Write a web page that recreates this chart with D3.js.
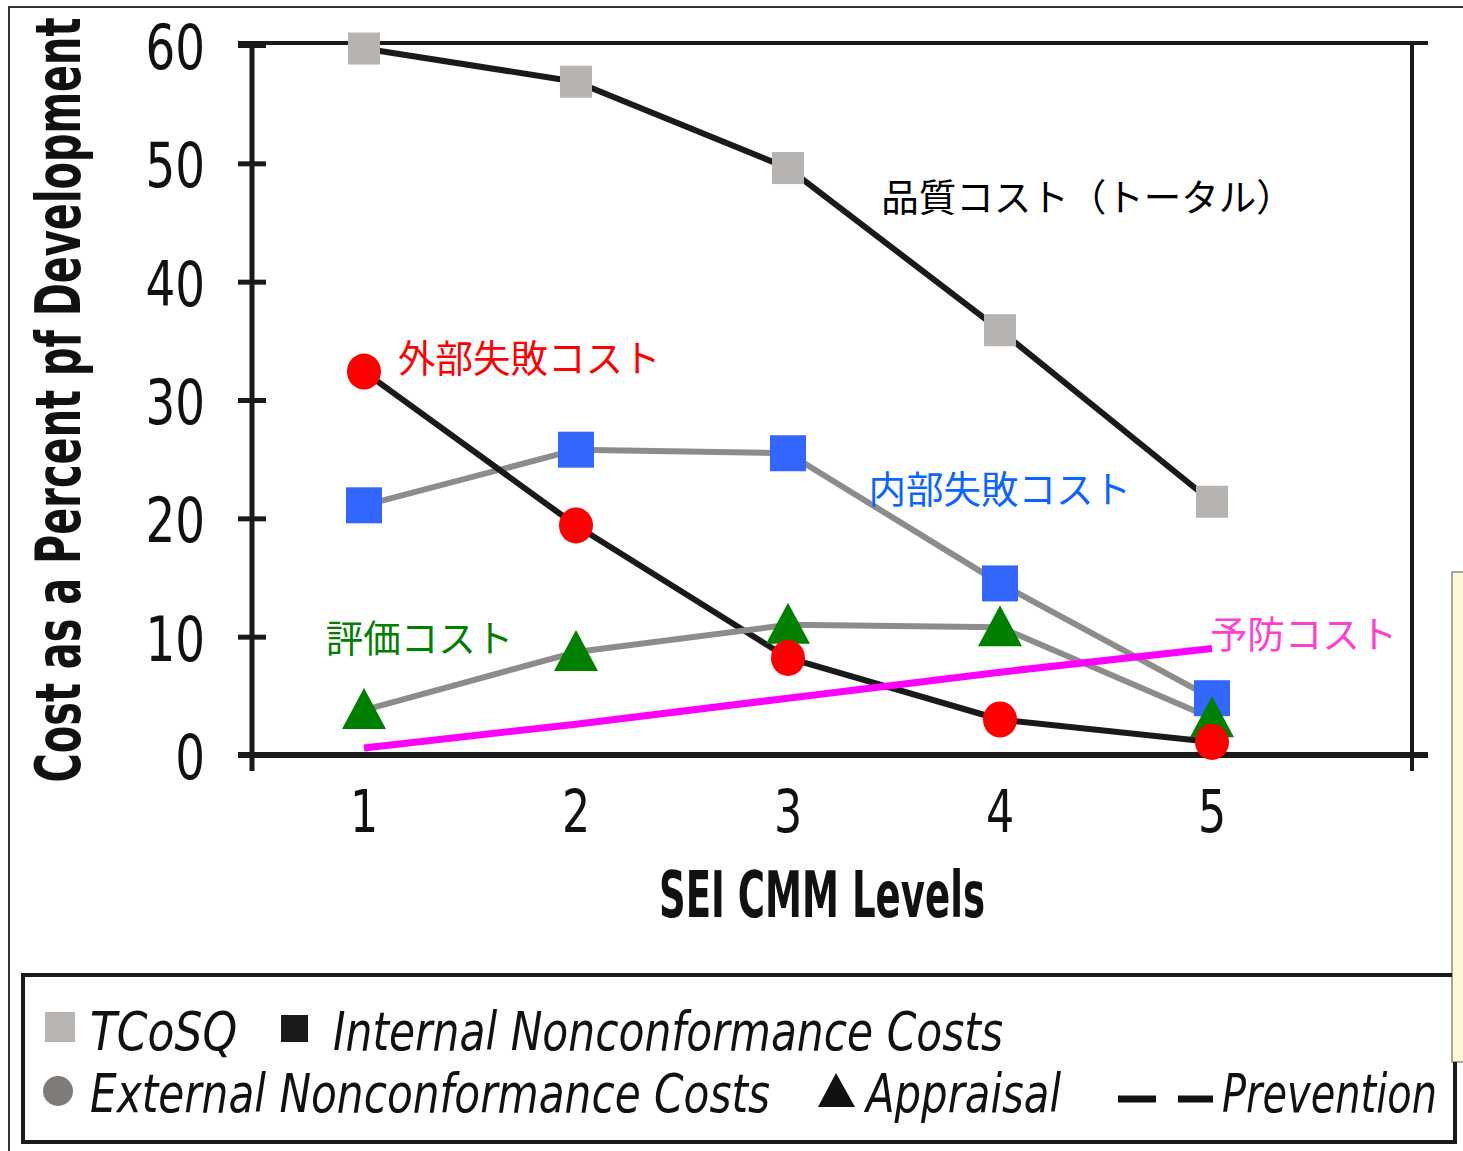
<!DOCTYPE html>
<html><head><meta charset="utf-8">
<script src="https://cdn.jsdelivr.net/npm/d3@7/dist/d3.min.js"></script>
<style>
html,body{margin:0;padding:0;background:#fff;}
svg{display:block;}
</style></head>
<body><svg id="chart" width="1463" height="1151"></svg>
<script>
// ---- data ----
const levels = [1, 2, 3, 4, 5];
const tcosq = [59.7, 56.9, 49.6, 35.9, 21.4];        // TCoSQ (total)
const internalNC = [21.1, 25.8, 25.5, 14.5, 4.8];    // internal nonconformance
const externalNC = [32.4, 19.4, 8.2, 3.0, 1.1];      // external nonconformance
const appraisal = [3.8, 8.7, 11.0, 10.8, 3.1];
const prevention = [0.6, 2.6, 4.8, 7.0, 9.0];
const yTickValues = [0, 10, 20, 30, 40, 50, 60];
const xTickLabels = ["1", "2", "3", "4", "5"];
const yTitle = "Cost as a Percent pf Development";
const xTitle = "SEI CMM Levels";
const annotations = [
  {text: "品質コスト（トータル）", level: 3.44, value: 47.4, color: "#000000"},
  {text: "外部失敗コスト", level: 1.16, value: 33.8, color: "#ff0000"},
  {text: "内部失敗コスト", level: 3.38, value: 22.7, color: "#0a66ff"},
  {text: "評価コスト", level: 0.82, value: 10.1, color: "#008000"},
  {text: "予防コスト", level: 4.99, value: 10.4, color: "#ff3fd2"}
];
const legendRow1 = [
  {label: "TCoSQ", sym: "sq", color: "#b8b5b2"},
  {label: "Internal Nonconformance Costs", sym: "sq", color: "#1a1a1a"}
];
const legendRow2 = [
  {label: "External Nonconformance Costs", sym: "circle", color: "#7f7b78"},
  {label: "Appraisal", sym: "tri", color: "#111"},
  {label: "Prevention", sym: "dash", color: "#111"}
];

// ---- drawing ----
(function () {
const svg = d3.select("#chart");
const narrow = "'Liberation Sans Narrow','DejaVu Sans Condensed','Liberation Sans',sans-serif";
const cjk = "'Noto Sans CJK JP','Noto Sans CJK SC',sans-serif";

const x = d3.scaleLinear().domain([1, 5]).range([364, 1212]);
const y = d3.scaleLinear().domain([0, 60]).range([755, 45]);

const plotLeft = 252, plotRight = 1412, plotTop = 43, plotBottom = y(0);
const axisColor = "#1a1a1a";

// outer page frame
svg.append("line").attr("x1", 8).attr("x2", 1463).attr("y1", 7).attr("y2", 7)
  .attr("stroke", "#333").attr("stroke-width", 2);
svg.append("line").attr("x1", 9).attr("x2", 9).attr("y1", 7).attr("y2", 1151)
  .attr("stroke", "#333").attr("stroke-width", 2);

// frame lines
svg.append("line").attr("x1", 238).attr("x2", 1428).attr("y1", plotTop).attr("y2", plotTop)
  .attr("stroke", axisColor).attr("stroke-width", 4);
svg.append("line").attr("x1", plotRight).attr("x2", plotRight).attr("y1", plotTop).attr("y2", 771)
  .attr("stroke", axisColor).attr("stroke-width", 4);

// y axis
const sx = 0.84;
const yAxis = d3.axisLeft(y).tickValues(yTickValues).tickSize(14).tickPadding(0)
  .tickFormat(d3.format("d"));
const gy = svg.append("g").attr("transform", `translate(${plotLeft},0)`).call(yAxis);
gy.select(".domain").remove();
gy.selectAll(".tick line").attr("x1", -14).attr("x2", 14)
  .attr("stroke", axisColor).attr("stroke-width", 5);
gy.selectAll(".tick text").attr("x", -47 / sx).attr("dy", "0.38em")
  .attr("transform", `scale(${sx},1)`)
  .style("font-family", narrow).style("font-size", "62px").attr("fill", "#111");
svg.append("line").attr("x1", plotLeft).attr("x2", plotLeft).attr("y1", plotTop).attr("y2", 771)
  .attr("stroke", axisColor).attr("stroke-width", 5);

// x axis
const xAxis = d3.axisBottom(x).tickValues(levels).tickSize(0).tickPadding(0)
  .tickFormat((d, i) => xTickLabels[i]);
const gx = svg.append("g").attr("transform", `translate(0,${plotBottom})`).call(xAxis);
gx.select(".domain").remove();
gx.selectAll(".tick text").attr("y", 77).attr("dy", 0)
  .attr("transform", "scale(0.85,1)")
  .style("font-family", narrow).style("font-size", "58px").attr("fill", "#111");
gx.selectAll(".tick").each(function (d) {
  d3.select(this).attr("transform", `translate(${x(d)},0)`);
});
svg.append("line").attr("x1", 238).attr("x2", 1428).attr("y1", plotBottom).attr("y2", plotBottom)
  .attr("stroke", axisColor).attr("stroke-width", 6);

// axis titles
svg.append("text").attr("transform", "translate(80,400) rotate(-90)")
  .attr("text-anchor", "middle").attr("textLength", 765).attr("lengthAdjust", "spacingAndGlyphs")
  .style("font-family", narrow).style("font-weight", "bold").style("font-size", "62px")
  .attr("fill", "#111").text(yTitle);
svg.append("text").attr("x", 822).attr("y", 917)
  .attr("text-anchor", "middle").attr("textLength", 326).attr("lengthAdjust", "spacingAndGlyphs")
  .style("font-family", narrow).style("font-weight", "bold").style("font-size", "64px")
  .attr("fill", "#111").text(xTitle);

// series lines
const line = d3.line().x((d, i) => x(levels[i])).y(d => y(d));
const lineSpecs = [
  {data: tcosq, color: "#1a1a1a"},
  {data: internalNC, color: "#8e8c8a"},
  {data: externalNC, color: "#1a1a1a"},
  {data: appraisal, color: "#8e8c8a"}
];
lineSpecs.forEach(s => {
  svg.append("path").datum(s.data).attr("d", line)
    .attr("fill", "none").attr("stroke", s.color).attr("stroke-width", 6)
    .attr("stroke-linejoin", "round");
});
svg.append("path").datum(prevention).attr("d", line)
  .attr("fill", "none").attr("stroke", "#ff00ff").attr("stroke-width", 7);

// markers
const pts = arr => arr.map((v, i) => ({x: x(levels[i]), y: y(v)}));
svg.append("g").selectAll("rect").data(pts(tcosq)).join("rect")
  .attr("x", d => d.x - 16).attr("y", d => d.y - 16).attr("width", 32).attr("height", 32)
  .attr("fill", "#b6b3b0");
svg.append("g").selectAll("rect").data(pts(internalNC)).join("rect")
  .attr("x", d => d.x - 18).attr("y", d => d.y - 18).attr("width", 36).attr("height", 36)
  .attr("fill", "#3366ff");
svg.append("g").selectAll("path").data(pts(appraisal)).join("path")
  .attr("d", d => `M${d.x},${d.y - 22}L${d.x + 22},${d.y + 19}L${d.x - 22},${d.y + 19}Z`)
  .attr("fill", "#008000");
svg.append("g").selectAll("ellipse").data(pts(externalNC)).join("ellipse")
  .attr("cx", d => d.x).attr("cy", d => d.y).attr("rx", 17).attr("ry", 18)
  .attr("fill", "#ff0000");

// annotations
svg.append("g").selectAll("text").data(annotations).join("text")
  .attr("x", d => x(d.level)).attr("y", d => y(d.value))
  .attr("dominant-baseline", "central")
  .style("font-family", cjk).style("font-size", "37.5px")
  .attr("fill", d => d.color).text(d => d.text);

// yellow side note box
svg.append("rect").attr("x", 1452).attr("y", 572).attr("width", 20).attr("height", 490)
  .attr("fill", "#fdf9d8").attr("stroke", "#8a8a8a").attr("stroke-width", 1.5);

// legend box
svg.append("path").attr("d", "M1452,975 H23 V1142 H1455 V1062")
  .attr("fill", "none").attr("stroke", "#1a1a1a").attr("stroke-width", 4);

const legendFont = sel => sel.style("font-family", narrow).style("font-style", "italic")
  .style("font-size", "54px").attr("fill", "#111");
// row 1
const lr1 = [{x: 45, tx: 90, w: 147}, {x: 281, tx: 333, w: 670}];
legendRow1.forEach((d, i) => {
  const p = lr1[i];
  const s = i === 0 ? 30 : 27;
  svg.append("rect").attr("x", p.x).attr("y", 1042 - s).attr("width", s).attr("height", s)
    .attr("fill", d.color);
  svg.append("text").attr("x", p.tx).attr("y", 1050).attr("textLength", p.w)
    .attr("lengthAdjust", "spacingAndGlyphs").call(legendFont).text(d.label);
});
// row 2
const lr2 = [{tx: 90, w: 680}, {tx: 866, w: 195}, {tx: 1222, w: 215}];
legendRow2.forEach((d, i) => {
  const p = lr2[i];
  if (d.sym === "circle") {
    svg.append("circle").attr("cx", 58).attr("cy", 1091).attr("r", 15).attr("fill", d.color);
  } else if (d.sym === "tri") {
    svg.append("path").attr("d", "M836,1073 L855,1107 L818,1107 Z").attr("fill", d.color);
  } else if (d.sym === "dash") {
    svg.append("line").attr("x1", 1118).attr("x2", 1213).attr("y1", 1099).attr("y2", 1099)
      .attr("stroke", d.color).attr("stroke-width", 7).attr("stroke-dasharray", "38,22");
  }
  svg.append("text").attr("x", p.tx).attr("y", 1112).attr("textLength", p.w)
    .attr("lengthAdjust", "spacingAndGlyphs").call(legendFont).text(d.label);
});
})();
</script>
</body></html>
